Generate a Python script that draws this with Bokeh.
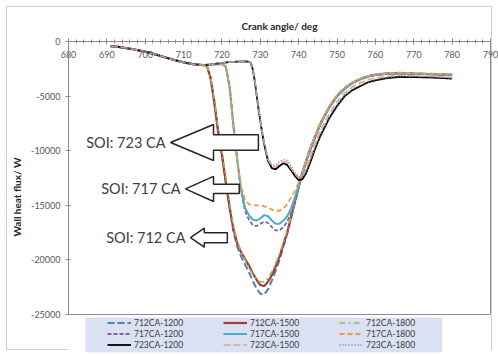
from bokeh.plotting import figure
from bokeh.models import (Legend, LegendItem, NumeralTickFormatter, FixedTicker, Range1d,
                          LinearAxis, Span, BoxAnnotation)
from bokeh.core.properties import value
from bokeh.embed import file_html
from bokeh.resources import INLINE

# ---- data -----------------------------------------------------------------
# compression phase shared by every case (crank angle in deg, wall heat flux in W)
motoring_angle = [691, 693, 695, 697, 699, 701, 703, 705, 707, 709, 711, 713, 715]
motoring_flux = [-430, -500, -600, -720, -860, -1020, -1220, -1440, -1640, -1830, -1990, -2100, -2160]

# start of injection at 712 CA
angle_712 = [716, 717, 718, 719, 720, 721, 722, 723, 724, 725, 726, 727, 728, 729, 730,
             731, 732, 733, 734, 735, 736, 737, 738, 739, 740, 741, 742, 743, 744, 745,
             746, 748, 750, 752, 754, 756, 758, 760, 763, 766, 770, 775, 780]
flux_712_1200 = [-2200, -3200, -5400, -8100, -10300, -12800, -15200, -17400, -18800, -19700,
                 -20400, -21100, -21900, -22600, -23100, -23200, -22700, -21900, -21000, -20000,
                 -18800, -17600, -16200, -14800, -13300, -12000, -10900, -9800, -8900, -8100,
                 -7300, -6000, -5000, -4300, -3800, -3450, -3200, -3050, -2950, -2900,
                 -2950, -3000, -3050]
flux_712_1500 = [-2200, -3300, -5600, -8300, -10400, -12900, -15200, -17200, -18500, -19300,
                 -19900, -20500, -21200, -21800, -22300, -22400, -22000, -21400, -20600, -19700,
                 -18600, -17500, -16100, -14700, -13300, -12000, -10900, -9900, -9000, -8100,
                 -7300, -6000, -5000, -4300, -3800, -3450, -3200, -3050, -2950, -2900,
                 -2950, -3000, -3050]
flux_712_1800 = [-2200, -3200, -5300, -7900, -10000, -12400, -14800, -16900, -18300, -19300,
                 -20000, -20700, -21300, -21800, -22000, -22000, -21700, -21100, -20300, -19400,
                 -18400, -17300, -16000, -14600, -13200, -11900, -10800, -9800, -8900, -8000,
                 -7200, -5900, -4900, -4200, -3750, -3400, -3150, -3000, -2900, -2850,
                 -2900, -2950, -3000]

# start of injection at 717 CA
angle_717 = [718, 720, 721, 722, 723, 724, 725, 726, 727, 728, 729, 730, 731, 732, 733,
             734, 735, 736, 737, 738, 739, 740, 741, 742, 743, 744, 745, 746, 748, 750,
             752, 754, 756, 758, 760, 763, 766, 770, 775, 780]
flux_717_1200 = [-2100, -2050, -2300, -4000, -7600, -10800, -13700, -15500, -16300, -16800,
                 -16900, -16700, -16500, -16600, -17000, -17300, -17300, -17000, -16500, -15700,
                 -14600, -13300, -12000, -10900, -9900, -9000, -8100, -7300, -6000, -5000,
                 -4300, -3800, -3450, -3200, -3050, -2950, -2900, -2950, -3000, -3050]
flux_717_1500 = [-2100, -2050, -2300, -4200, -7800, -10900, -13600, -15200, -15900, -16300,
                 -16400, -16200, -15900, -16000, -16400, -16700, -16700, -16400, -16000, -15300,
                 -14300, -13200, -12000, -10900, -9800, -8900, -8100, -7300, -6000, -5000,
                 -4300, -3800, -3450, -3200, -3050, -2950, -2900, -2950, -3000, -3050]
flux_717_1800 = [-2100, -2050, -2300, -4300, -7900, -11000, -13300, -14500, -14900, -15000,
                 -15000, -15000, -15100, -15200, -15400, -15500, -15500, -15300, -14900, -14300,
                 -13700, -12900, -11900, -10800, -9800, -8900, -8000, -7200, -5900, -4900,
                 -4200, -3750, -3400, -3150, -3000, -2900, -2850, -2900, -2950, -3000]

# start of injection at 723 CA
angle_723 = [716, 718, 720, 722, 724, 726, 727, 727.5, 728, 728.5, 729, 729.5, 730, 730.5,
             731, 731.5, 732, 733, 734, 735, 736, 737, 738, 739, 740, 741, 742, 743, 744,
             745, 746, 747, 748, 750, 752, 754, 756, 758, 760, 763, 766, 770, 775, 780]
flux_723_1200 = [-2170, -2050, -1950, -1890, -1850, -1830, -1850, -1950, -2500, -3500, -4800,
                 -6100, -7300, -8400, -9400, -10200, -10900, -11600, -11700, -11400, -11150,
                 -11300, -11800, -12300, -12700, -12600, -12000, -11100, -10100, -9200, -8400,
                 -7700, -7000, -5900, -5000, -4450, -4100, -3750, -3550, -3350, -3250, -3250,
                 -3300, -3400]
flux_723_1500 = [-2170, -2050, -1950, -1890, -1850, -1830, -1850, -1950, -2450, -3400, -4700,
                 -6000, -7200, -8300, -9300, -10100, -10800, -11400, -11500, -11200, -11000,
                 -11100, -11600, -12100, -12500, -12300, -11600, -10600, -9600, -8700, -7900,
                 -7200, -6600, -5500, -4700, -4150, -3800, -3500, -3350, -3200, -3100, -3150,
                 -3200, -3300]
flux_723_1800 = [-2170, -2050, -1950, -1890, -1850, -1830, -1850, -1950, -2450, -3400, -4700,
                 -6000, -7200, -8300, -9200, -10000, -10700, -11300, -11300, -11000, -10800,
                 -10900, -11400, -12000, -12400, -12400, -11900, -11000, -10000, -9100, -8300,
                 -7600, -6900, -5800, -4900, -4350, -4000, -3700, -3500, -3300, -3200, -3200,
                 -3250, -3350]

series_names = ["712CA-1200", "712CA-1500", "712CA-1800",
                "717CA-1200", "717CA-1500", "717CA-1800",
                "723CA-1200", "723CA-1500", "723CA-1800"]
series_angles = [angle_712, angle_712, angle_712,
                 angle_717, angle_717, angle_717,
                 angle_723, angle_723, angle_723]
series_flux = [flux_712_1200, flux_712_1500, flux_712_1800,
               flux_717_1200, flux_717_1500, flux_717_1800,
               flux_723_1200, flux_723_1500, flux_723_1800]

x_tick_values = [680, 690, 700, 710, 720, 730, 740, 750, 760, 770, 780, 790]
x_minor_values = [682, 684, 686, 688, 692, 694, 696, 698, 702, 704, 706, 708, 712, 714,
                  716, 718, 722, 724, 726, 728, 732, 734, 736, 738, 742, 744, 746, 748,
                  752, 754, 756, 758, 762, 764, 766, 768, 772, 774, 776, 778, 782, 784,
                  786, 788]
y_tick_values = [0, -5000, -10000, -15000, -20000, -25000]

soi_labels = ["SOI: 723 CA", "SOI: 717 CA", "SOI: 712 CA"]

# ---- styling ----------------------------------------------------------------
line_styles = [
    ("#4F81BD", 2.0, "7 3"),
    ("#A6373A", 2.2, "solid"),
    ("#9BBB59", 1.6, "6 3 2 3"),
    ("#8064A2", 1.8, "4 2"),
    ("#4BACC6", 2.0, "solid"),
    ("#F79646", 1.8, "5 3"),
    ("#000000", 1.8, "solid"),
    ("#E6A0A0", 1.6, "7 3"),
    ("#6B8E7F", 1.6, "1 2"),
]

FONT = "Lato"
TICK_COLOR = "#595959"
AXIS_GRAY = "#8c8c8c"

# value axis is drawn over [-25000, 0]; the extra room below holds the legend
y_axis_bounds = (-25000, 0)

# block arrows pointing at each start-of-injection group (deg / W)
arrow_tip_x = [706.6, 710.5, 711.8]
arrow_tip_y = [-9250, -13500, -17970]
arrow_head_x = [717.8, 717.8, 715.4]
arrow_tail_x = [729.5, 724.5, 721.4]
arrow_head_half = [1650, 1150, 870]
arrow_shaft_half = [700, 420, 460]

# ---- figure -------------------------------------------------------------------
p = figure(width=498, height=356, output_backend="svg", toolbar_location=None,
           x_range=Range1d(680, 790), y_range=Range1d(-28480, 0),
           x_axis_location="above",
           min_border_left=68, min_border_right=8, min_border_top=41, min_border_bottom=4)
p.background_fill_color = "white"
p.border_fill_alpha = 0.0
p.outline_line_color = None
p.grid.visible = False
# thin chart-area frame a few pixels inside the page edge
p.styles = {"background-color": "white",
            "box-shadow": "inset 0 0 0 6px #ffffff, inset 0 0 0 7px #d0d0d0"}

xa = p.xaxis[0]
xa.ticker = FixedTicker(ticks=x_tick_values, minor_ticks=x_minor_values)
xa.axis_label = "Crank angle/ deg"
xa.axis_label_text_font = FONT
xa.axis_label_text_font_size = "10px"
xa.axis_label_text_font_style = "bold"
xa.axis_label_text_color = "#262626"
xa.axis_line_color = AXIS_GRAY
xa.major_tick_line_color = AXIS_GRAY
xa.minor_tick_line_color = AXIS_GRAY
xa.major_tick_in = 3
xa.major_tick_out = 3
xa.minor_tick_in = 2
xa.minor_tick_out = 2
xa.major_label_text_font = FONT
xa.major_label_text_font_size = "9px"
xa.major_label_text_color = TICK_COLOR
xa.major_label_standoff = -19
xa.axis_label_standoff = 16

ya = p.yaxis[0]
ya.ticker = FixedTicker(ticks=y_tick_values)
ya.bounds = y_axis_bounds
ya.formatter = NumeralTickFormatter(format="0")
ya.axis_label = "Wall heat flux/ W"
ya.axis_label_text_font = FONT
ya.axis_label_text_font_size = "10px"
ya.axis_label_text_font_style = "bold"
ya.axis_label_text_color = "#262626"
ya.axis_line_color = AXIS_GRAY
ya.major_tick_line_color = AXIS_GRAY
ya.minor_tick_line_color = None
ya.major_tick_in = 2
ya.major_tick_out = 3
ya.major_label_text_font = FONT
ya.major_label_text_font_size = "9px"
ya.major_label_text_color = TICK_COLOR
ya.major_label_standoff = 5
ya.axis_label_standoff = 5

# right and bottom edges of the plot box
right_edge = LinearAxis(bounds=y_axis_bounds, ticker=FixedTicker(ticks=[]),
                        axis_line_color=AXIS_GRAY, major_tick_line_color=None,
                        minor_tick_line_color=None, major_label_text_font_size="0px",
                        major_label_standoff=0)
p.add_layout(right_edge, "right")
p.add_layout(Span(location=y_axis_bounds[0], dimension="width", line_color=AXIS_GRAY, line_width=1))

renderers = {}
for name, ang, flux, (color, width, dash) in zip(series_names, series_angles, series_flux, line_styles):
    r = p.line(motoring_angle + ang, motoring_flux + flux,
               line_color=color, line_width=width, line_dash=dash)
    renderers[name] = r

# block arrows with their captions
for tx, ty, hx, ex, hh, sh, label in zip(arrow_tip_x, arrow_tip_y, arrow_head_x, arrow_tail_x,
                                         arrow_head_half, arrow_shaft_half, soi_labels):
    xs = [tx, hx, hx, ex, ex, hx, hx]
    ys = [ty, ty + hh, ty + sh, ty + sh, ty - sh, ty - sh, ty - hh]
    p.patch(xs, ys, fill_color="white", line_color="#262626", line_width=1.5)
    p.text([tx], [ty], text=[label], text_align="right", text_baseline="middle",
           x_offset=-5, text_font=value(FONT), text_font_size="14.5px", text_color="#404040")

# legend panel: shaded box with three rows by three columns of entries
p.add_layout(BoxAnnotation(left=684.4, right=777.4, top=-25270, bottom=-28480,
                           fill_color="#D9E1F2", fill_alpha=1.0, line_color=None, level="underlay"))
order = ["712CA-1200", "717CA-1200", "723CA-1200",
         "712CA-1500", "717CA-1500", "723CA-1500",
         "712CA-1800", "717CA-1800", "723CA-1800"]
legend = Legend(items=[LegendItem(label=n, renderers=[renderers[n]]) for n in order],
                ncols=3, location=(39, 2),
                label_text_font=FONT, label_text_font_size="8.5px", label_text_color="#404040",
                glyph_width=24, glyph_height=11, label_height=11, label_width=89,
                label_standoff=3, spacing=0, padding=0, margin=0,
                background_fill_alpha=0.0, border_line_color=None)
p.add_layout(legend, "center")

open("out.html", "w").write(file_html(p, INLINE))
